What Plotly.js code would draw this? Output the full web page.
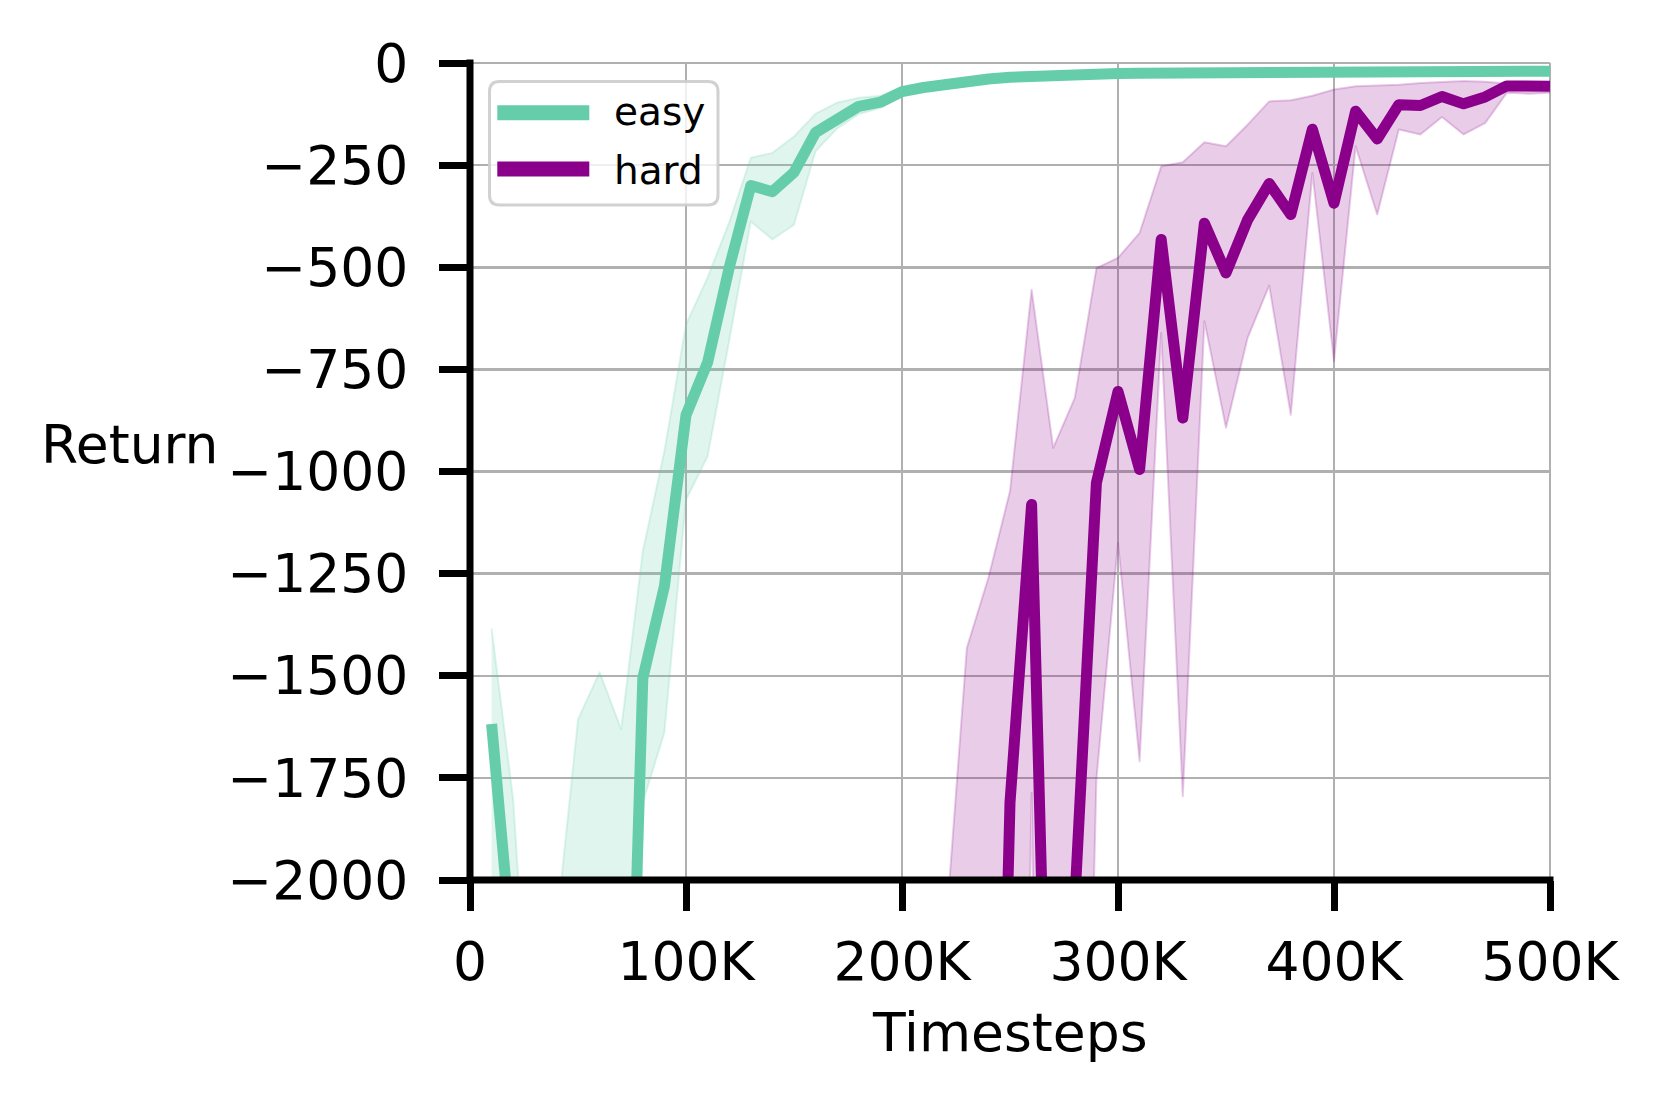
<!DOCTYPE html>
<html>
<head>
<meta charset="utf-8">
<script src="https://cdn.plot.ly/plotly-3.0.1.min.js"></script>
<style>
  html, body { margin: 0; padding: 0; background: #fff; }
  #plot { width: 1661px; height: 1107px; }
  .scatterlayer .js-line { stroke-linejoin: round !important; }
</style>
</head>
<body>
<div id="plot"></div>
<script>
// x positions (timesteps)
let steps = [10000, 20000, 30000, 40000, 50000, 60000, 70000, 80000, 90000, 100000,
  110000, 120000, 130000, 140000, 150000, 160000, 170000, 180000, 190000, 200000,
  210000, 220000, 230000, 240000, 250000, 260000, 270000, 280000, 290000, 300000,
  310000, 320000, 330000, 340000, 350000, 360000, 370000, 380000, 390000, 400000,
  410000, 420000, 430000, 440000, 450000, 460000, 470000, 480000, 490000, 500000]

// easy: mean return and band
let easy_mean = [-1618, -2430, -2800, -3000, -3000, -3100, -3270, -1506, -1281, -862,
  -733, -501, -300, -315, -268, -170, -138, -106, -96, -70,
  -60, -52, -45, -39, -35, -32, -30, -28, -27, -26,
  -25, -25, -24, -24, -24, -23, -23, -23, -22, -22,
  -22, -22, -21, -21, -21, -21, -21, -20, -20, -20]
let easy_hi = [-1384, -1803, -2624, -2124, -1607, -1491, -1631, -1195, -950, -640,
  -525, -390, -232, -220, -180, -124, -97, -85, -80, -60,
  -54, -47, -41, -36, -32, -29, -27, -25, -24, -23,
  -22, -22, -21, -21, -21, -20, -20, -20, -19, -19,
  -19, -19, -18, -18, -18, -18, -18, -17, -17, -17]
let easy_lo = [-4000, -4000, -4200, -4300, -4400, -4600, -5000, -1810, -1639, -1069,
  -963, -680, -388, -432, -396, -216, -160, -125, -110, -80,
  -67, -58, -50, -43, -38, -35, -33, -31, -30, -29,
  -28, -28, -27, -27, -27, -26, -26, -26, -25, -25,
  -25, -25, -24, -24, -24, -24, -24, -23, -23, -23]

// hard: mean return and band
let hard_mean = [-3850, -3800, -3900, -3850, -3800, -3750, -3800, -3850, -3900, -3800,
  -3750, -3700, -3800, -3850, -3900, -3800, -3750, -3800, -3700, -3750,
  -3800, -3850, -3900, -3900, -1810, -1081, -3080, -2050, -1028, -804,
  -995, -432, -869, -392, -514, -384, -295, -371, -162, -343,
  -118, -186, -102, -104, -82, -100, -83, -56, -57, -57]
let hard_hi = [-2900, -2950, -3000, -2900, -2850, -2900, -2950, -2800, -2850, -2900,
  -2800, -2750, -2800, -2850, -2700, -2750, -2800, -2700, -2650, -2700,
  -2600, -2142, -1432, -1260, -1048, -555, -942, -820, -502, -477,
  -416, -253, -243, -194, -204, -151, -94, -91, -80, -65,
  -57, -55, -53, -49, -47, -44, -46, -50, -52, -53]
let hard_lo = [-4800, -4850, -4900, -4800, -4750, -4900, -4850, -4800, -4900, -4950,
  -4800, -4850, -4900, -4800, -4850, -4900, -4950, -4800, -4850, -4900,
  -4950, -4900, -5000, -5000, -5000, -1787, -5000, -4000, -1754, -1175,
  -1709, -661, -1795, -632, -893, -673, -545, -861, -269, -730,
  -204, -371, -163, -175, -132, -175, -147, -73, -75, -73]

// tick labels
let x_ticks = [0, 100000, 200000, 300000, 400000, 500000]
let x_labels = ["0", "100K", "200K", "300K", "400K", "500K"]
let y_ticks = [0, -250, -500, -750, -1000, -1250, -1500, -1750, -2000]
let y_labels = ["0", "\u2212250", "\u2212500", "\u2212750", "\u22121000", "\u22121250", "\u22121500", "\u22121750", "\u22122000"]

let green = "#66cdaa"
let purple = "#8b008b"
let green_a = "rgba(102,205,170,0.2)"
let purple_a = "rgba(139,0,139,0.2)"

let trace1 = { x: steps, y: easy_lo, mode: "lines", line: {color: green_a, width: 2}, showlegend: false, hoverinfo: "skip" }
let trace2 = { x: steps, y: easy_hi, mode: "lines", fill: "tonexty", fillcolor: green_a, line: {color: green_a, width: 2}, showlegend: false, hoverinfo: "skip" }
let trace3 = { x: steps, y: easy_mean, mode: "lines", name: "easy", line: {color: green, width: 11}, showlegend: false }
let trace4 = { x: steps, y: hard_lo, mode: "lines", line: {color: purple_a, width: 2}, showlegend: false, hoverinfo: "skip" }
let trace5 = { x: steps, y: hard_hi, mode: "lines", fill: "tonexty", fillcolor: purple_a, line: {color: purple_a, width: 2}, showlegend: false, hoverinfo: "skip" }
let trace6 = { x: steps, y: hard_mean, mode: "lines", name: "hard", line: {color: purple, width: 11}, showlegend: false }

let font = "DejaVu Sans"
let fs = 53.5

// pixel -> paper helpers for the hand-made legend and spines
let L = 470, W = 1080, T = 63, H = 817
function px(v) { return (v - L) / W }
function py(v) { return (T + H - v) / H }

let bx0 = px(489.5), bx1 = px(718), by1 = py(81.6), by0 = py(205)
let rx = 10 / W, ry = 10 / H
let boxPath = "M" + (bx0 + rx) + "," + by1 + " L" + (bx1 - rx) + "," + by1 +
  " Q" + bx1 + "," + by1 + " " + bx1 + "," + (by1 - ry) +
  " L" + bx1 + "," + (by0 + ry) + " Q" + bx1 + "," + by0 + " " + (bx1 - rx) + "," + by0 +
  " L" + (bx0 + rx) + "," + by0 + " Q" + bx0 + "," + by0 + " " + bx0 + "," + (by0 + ry) +
  " L" + bx0 + "," + (by1 - ry) + " Q" + bx0 + "," + by1 + " " + (bx0 + rx) + "," + by1 + " Z"

let layout = {
  width: 1661, height: 1107,
  margin: {l: L, r: 1661 - L - W, t: T, b: 1107 - T - H, pad: 0},
  paper_bgcolor: "#fff", plot_bgcolor: "#fff",
  font: {family: font, size: fs, color: "#000"},
  showlegend: false,
  xaxis: {
    range: [0, 500000], tickvals: x_ticks, ticktext: x_labels,
    showgrid: true, gridcolor: "#b0b0b0", gridwidth: 2.5, zeroline: false,
    showline: false,
    ticks: "outside", ticklen: 30, tickwidth: 7, tickcolor: "#000",
    ticklabelstandoff: 5,
    tickfont: {family: font, size: fs, color: "#000"}
  },
  yaxis: {
    range: [-2000, 0], tickvals: y_ticks, ticktext: y_labels,
    showgrid: true, gridcolor: "#b0b0b0", gridwidth: 2.5, zeroline: false,
    showline: false,
    ticks: "outside", ticklen: 30, tickwidth: 7, tickcolor: "#000",
    ticklabelstandoff: 20,
    tickfont: {family: font, size: fs, color: "#000"}
  },
  shapes: [
    {type: "line", xref: "paper", yref: "paper", x0: 0, x1: 1, y0: 1, y1: 1, line: {color: "#b0b0b0", width: 2}, layer: "below"},
    {type: "line", xref: "paper", yref: "paper", x0: 1, x1: 1, y0: 0, y1: 1, line: {color: "#b0b0b0", width: 2}, layer: "below"},
    // spines, centred on the plot edges
    {type: "line", xref: "paper", yref: "paper", x0: 0, x1: 0, y0: -3.5 / H, y1: 1 + 3.5 / H, line: {color: "#000", width: 7}, layer: "above"},
    {type: "line", xref: "paper", yref: "paper", x0: -3.5 / W, x1: 1 + 3.5 / W, y0: 0, y1: 0, line: {color: "#000", width: 7}, layer: "above"},
    // legend
    {type: "path", xref: "paper", yref: "paper", path: boxPath, fillcolor: "rgba(255,255,255,0.8)", line: {color: "rgba(204,204,204,0.9)", width: 3}, layer: "above"},
    {type: "line", xref: "paper", yref: "paper", x0: px(497.3), x1: px(589.3), y0: py(112.7), y1: py(112.7), line: {color: green, width: 15}, layer: "above"},
    {type: "line", xref: "paper", yref: "paper", x0: px(497.3), x1: px(589.3), y0: py(169), y1: py(169), line: {color: purple, width: 15}, layer: "above"}
  ],
  annotations: [
    {text: "easy", xref: "paper", yref: "paper", x: px(612), y: py(112), xanchor: "left", yanchor: "middle", showarrow: false, font: {family: font, size: 39, color: "#000"}},
    {text: "hard", xref: "paper", yref: "paper", x: px(612), y: py(170), xanchor: "left", yanchor: "middle", showarrow: false, font: {family: font, size: 39, color: "#000"}},
    {text: "Return", xref: "paper", yref: "paper", x: px(129.8), y: py(445), xanchor: "center", yanchor: "middle", showarrow: false, font: {family: font, size: fs, color: "#000"}},
    {text: "Timesteps", xref: "paper", yref: "paper", x: 0.5, y: py(1032), xanchor: "center", yanchor: "middle", showarrow: false, font: {family: font, size: fs, color: "#000"}}
  ]
}

let data = [trace1, trace2, trace3, trace4, trace5, trace6]
Plotly.newPlot("plot", data, layout, {staticPlot: true})
</script>
</body>
</html>
